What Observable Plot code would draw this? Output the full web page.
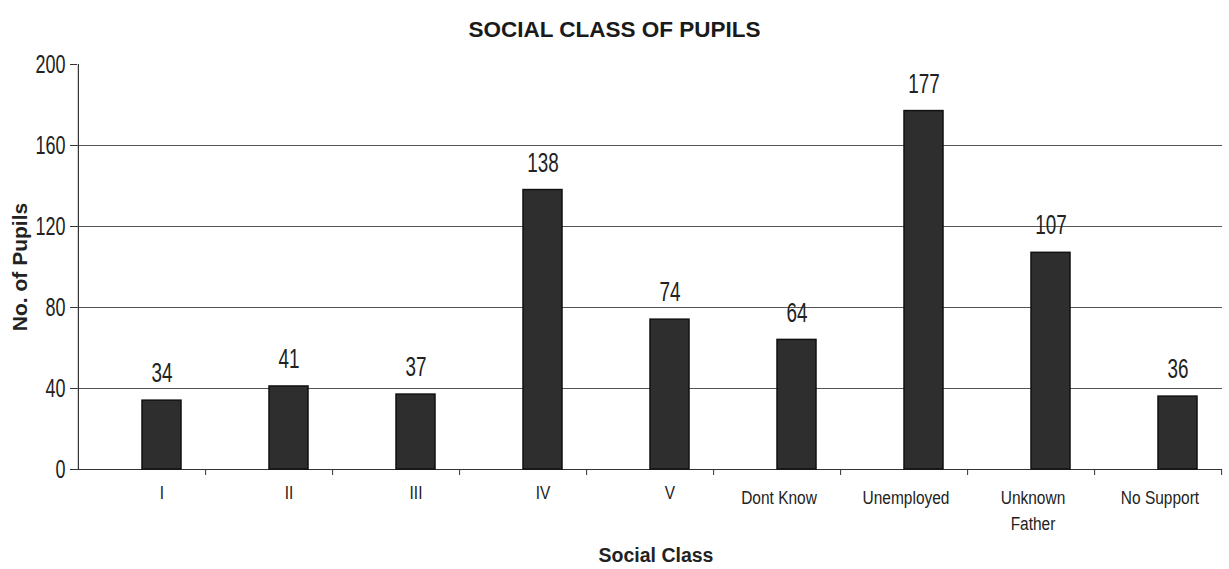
<!DOCTYPE html>
<html>
<head>
<meta charset="utf-8">
<script src="https://cdn.jsdelivr.net/npm/d3@7"></script>
<script src="https://cdn.jsdelivr.net/npm/@observablehq/plot@0.6"></script>
<style>
  body { margin: 0; background: #fff; }
  #wrap { width: 1229px; height: 569px; overflow: hidden; }
  #title { height: 50px; line-height: 60px; text-align: center; font-family: "Liberation Sans", Arial, sans-serif;
           font-weight: bold; font-size: 22.5px; letter-spacing: 0px; color: #1a1a1a; }
</style>
</head>
<body>
<div id="wrap">
  <div id="title">SOCIAL CLASS OF PUPILS</div>
  <div id="chart"></div>
</div>
<script>
const categories = ["I", "II", "III", "IV", "V", "Dont Know", "Unemployed", "Unknown Father", "No Support"];
const tickLabels = ["I", "II", "III", "IV", "V", "Dont Know", "Unemployed", "Unknown\nFather", "No Support"];
const pupils = [34, 41, 37, 138, 74, 64, 177, 107, 36];
const yTicks = [0, 40, 80, 120, 160, 200];
const gridValues = [40, 80, 120, 160];
const xTitle = "Social Class";
const yTitle = "No. of Pupils";

const data = categories.map((c, i) => ({category: c, value: pupils[i]}));
const shortCats = categories.slice(0, 5);
const longCats = categories.slice(5);

const W = 1229, H = 519, ML = 77, MR = 7, MT = 14, MB = 100;
const step = (W - ML - MR) / categories.length;
const barShift = 20;
const sans = "'Liberation Sans', Arial, sans-serif";

const chart = Plot.plot({
  width: W, height: H,
  marginLeft: ML, marginRight: MR, marginTop: MT, marginBottom: MB,
  style: {background: "#fff", color: "#222", fontFamily: sans},
  x: {domain: categories, paddingInner: 0.69, paddingOuter: 0.345, axis: null},
  y: {domain: [0, 200], axis: null},
  marks: [
    Plot.ruleY(gridValues, {stroke: "#555", strokeWidth: 1}),
    Plot.ruleY([0], {stroke: "#333", strokeWidth: 1.2}),
    Plot.axisY({ticks: yTicks, tickSize: 7, tickPadding: 5, fontSize: 25, label: null,
                tickFormat: d => String(d), stroke: "#333", fill: "#222"}),
    Plot.ruleX([categories[0]], {y1: 0, y2: 200, dx: -step / 2, stroke: "#333", strokeWidth: 1.2}),
    Plot.axisX({tickSize: 6, tickFormat: () => "", dx: step / 2, label: null, stroke: "#333"}),
    Plot.axisX({ticks: shortCats, tickSize: 0, tickPadding: 17, fontSize: 18, label: null, dx: barShift,
                tickFormat: d => tickLabels[categories.indexOf(d)], fill: "#222"}),
    Plot.axisX({ticks: longCats, tickSize: 0, tickPadding: 17, fontSize: 18, label: null, dx: 2, lineHeight: 1.4,
                tickFormat: d => tickLabels[categories.indexOf(d)], fill: "#222"}),
    Plot.barY(data, {x: "category", y: "value", dx: barShift, fill: "#2e2e2e", stroke: "#111", strokeWidth: 1.5}),
    Plot.text(data, {x: "category", y: "value", dx: barShift, text: d => String(d.value), dy: -27, fontSize: 27,
                     fill: "#222"}),
    Plot.text([xTitle], {frameAnchor: "bottom", textAnchor: "middle", dx: 6, dy: 92, fontSize: 19.5,
                         fontWeight: "bold", fill: "#222"}),
    Plot.text([yTitle], {frameAnchor: "left", textAnchor: "middle", dx: -57, rotate: -90, fontSize: 21,
                         fontWeight: "bold", fill: "#222"})
  ]
});
document.getElementById("chart").appendChild(chart);

// compress glyphs horizontally to mimic the narrow font of the original
function condense(selector, factor) {
  chart.querySelectorAll(selector).forEach(t => {
    const parts = t.querySelectorAll("tspan");
    const leaves = parts.length ? Array.from(parts) : [t];
    leaves.forEach(el => {
      const len = el.getComputedTextLength();
      if (len > 0) {
        el.setAttribute("textLength", (len * factor).toFixed(1));
        el.setAttribute("lengthAdjust", "spacingAndGlyphs");
      }
    });
  });
}
condense('g[aria-label="y-axis tick label"] text', 0.72);
condense('g[aria-label="x-axis tick label"] text', 0.86);
condense('g[font-size="27"] text', 0.7);
</script>
</body>
</html>
